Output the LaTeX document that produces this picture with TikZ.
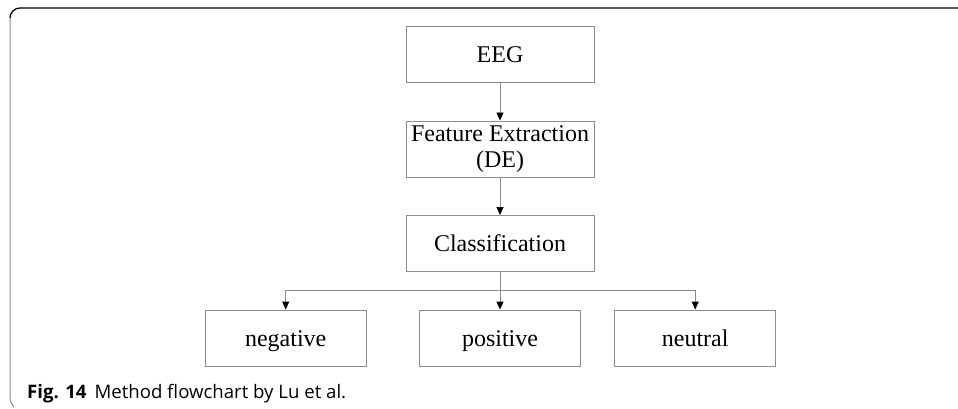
\documentclass[tikz,border=0pt]{standalone}
\usepackage{fontspec}
\setmainfont{Liberation Serif}
\newfontfamily\capfont{Open Sans}
\usetikzlibrary{arrows.meta}
\definecolor{boxgray}{HTML}{8C8C8C}
\tikzset{
  box/.style={draw=boxgray, line width=0.9pt, minimum width=188pt, minimum height=56pt,
    inner sep=0pt, align=center, font=\fontsize{24}{26}\selectfont},
  onebox/.style={box, text height=16pt, text depth=0pt},
  leaf/.style={onebox, minimum width=161pt},
  conn/.style={draw=boxgray, line width=0.9pt, -{Triangle[length=8pt,width=7pt,fill=black,color=black]}},
}
\begin{document}
\begin{tikzpicture}[x=1pt,y=-1pt]
\useasboundingbox (0,0) rectangle (958,409);
% frame
\draw[black, line width=1.3pt] (958,8) -- (20,8) .. controls (14.5,8) and (10,12.5) .. (10,18);
\draw[boxgray, line width=1pt] (10,18) -- (10,397) .. controls (10,401) and (11.5,404.5) .. (14,407);
% nodes
\node[onebox] (eeg) at (500,54.5) {EEG};
\node[box] (fe) at (500,149) {Feature Extraction\\(DE)};
\node[onebox] (cls) at (500,243.5) {Classification};
\node[leaf] (neg) at (285.7,338) {negative};
\node[leaf] (pos) at (500,338) {positive};
\node[leaf] (neu) at (695.2,338) {neutral};
\coordinate (br) at (500,290);
% connectors
\draw[conn] (eeg) -- (fe);
\draw[conn] (fe) -- (cls);
\draw[conn] (cls) -- (pos);
\draw[conn] (br) -| (neg);
\draw[conn] (br) -| (neu);
% caption
\node[anchor=base west, inner sep=0pt, font=\capfont\fontsize{18.6}{20}\selectfont] (cap) at (27,398)
  {\textbf{Fig. 14}\hspace{8pt}Method flowchart by Lu et al.};
\end{tikzpicture}
\end{document}
